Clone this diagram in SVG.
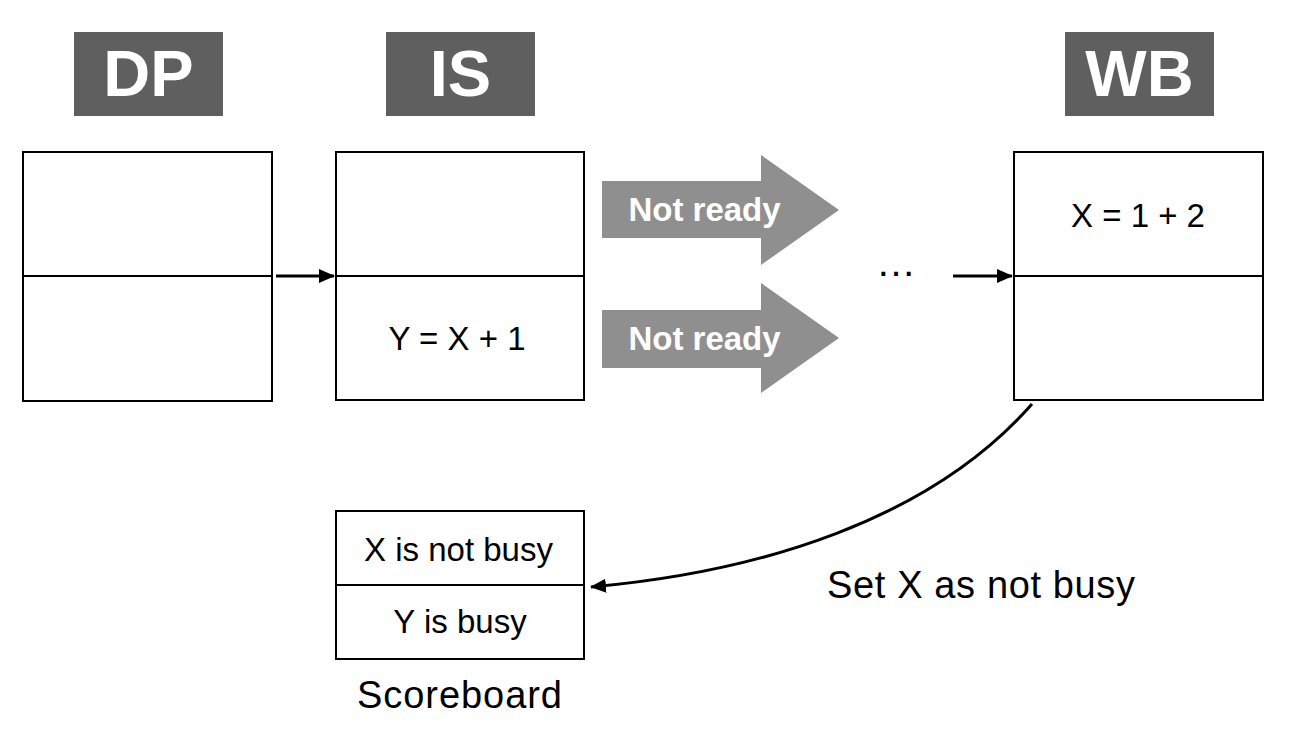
<svg xmlns="http://www.w3.org/2000/svg" width="1294" height="748" viewBox="0 0 1294 748">
<style>
.hdr{fill:#5f5f5f}
.hdrt{font-family:"Liberation Sans",Arial,sans-serif;font-weight:bold;font-size:65px;fill:#ffffff;text-anchor:middle}
.box{fill:#ffffff;stroke:#000000;stroke-width:2}
.div{stroke:#000000;stroke-width:2}
.t{font-family:"Liberation Sans",Arial,sans-serif;font-size:33px;fill:#000000;text-anchor:middle}
.lbl{font-family:"Liberation Sans",Arial,sans-serif;font-size:38px;fill:#000000}
.big{fill:#8f8f8f}
.bigt{font-family:"Liberation Sans",Arial,sans-serif;font-weight:bold;font-size:33px;fill:#ffffff;text-anchor:middle}
.conn{fill:none;stroke:#000000;stroke-width:3}
</style>
<defs>
<marker id="ah" viewBox="0 0 16 14" refX="15" refY="7" markerWidth="16" markerHeight="14" markerUnits="userSpaceOnUse" orient="auto">
<path d="M0,0 L16,7 L0,14 Z" fill="#000000"/>
</marker>
</defs>
<rect width="1294" height="748" fill="#ffffff"/>
<g id="hdr-dp"><rect class="hdr" x="74" y="32" width="149" height="84"/><text class="hdrt" x="148.5" y="96">DP</text></g>
<g id="hdr-is"><rect class="hdr" x="386" y="32" width="149" height="84"/><text class="hdrt" x="460.5" y="96">IS</text></g>
<g id="hdr-wb"><rect class="hdr" x="1065" y="32" width="149" height="84"/><text class="hdrt" x="1139.5" y="96">WB</text></g>
<g id="dp-stage"><rect class="box" x="23" y="152" width="249" height="249"/><line class="div" x1="23" y1="276" x2="272" y2="276"/></g>
<g id="is-stage"><rect class="box" x="336" y="152" width="248" height="248"/><line class="div" x1="336" y1="276" x2="584" y2="276"/><text class="t" x="457" y="350">Y = X + 1</text></g>
<g id="wb-stage"><rect class="box" x="1014" y="152" width="249" height="248"/><line class="div" x1="1014" y1="276" x2="1263" y2="276"/><text class="t" x="1138" y="227">X = 1 + 2</text></g>
<g id="not-ready-1"><polygon class="big" points="602,181 761,181 761,155 839,210 761,265 761,238 602,238"/><text class="bigt" x="704.5" y="221">Not ready</text></g>
<g id="not-ready-2"><polygon class="big" points="602,310 761,310 761,283 839,338 761,393 761,368 602,368"/><text class="bigt" x="704.5" y="350">Not ready</text></g>
<g id="ellipsis"><text font-family="Liberation Sans,Arial,sans-serif" font-size="40" fill="#000000" x="876" y="276">…</text></g>
<g id="scoreboard"><rect class="box" x="336" y="511" width="248" height="148"/><line class="div" x1="336" y1="585" x2="584" y2="585"/><text class="t" x="458.5" y="561">X is not busy</text><text class="t" x="460" y="633">Y is busy</text><text class="lbl" x="459.5" y="708" text-anchor="middle" textLength="205">Scoreboard</text></g>
<g id="set-label"><text class="lbl" x="827" y="598" textLength="308">Set X as not busy</text></g>
<g id="connectors">
<line class="conn" x1="276" y1="276" x2="334" y2="276" marker-end="url(#ah)"/>
<line class="conn" x1="953" y1="276" x2="1012" y2="276" marker-end="url(#ah)"/>
<path class="conn" d="M1032,404 C930,520 760,572 591,587" marker-end="url(#ah)"/>
</g>
</svg>
